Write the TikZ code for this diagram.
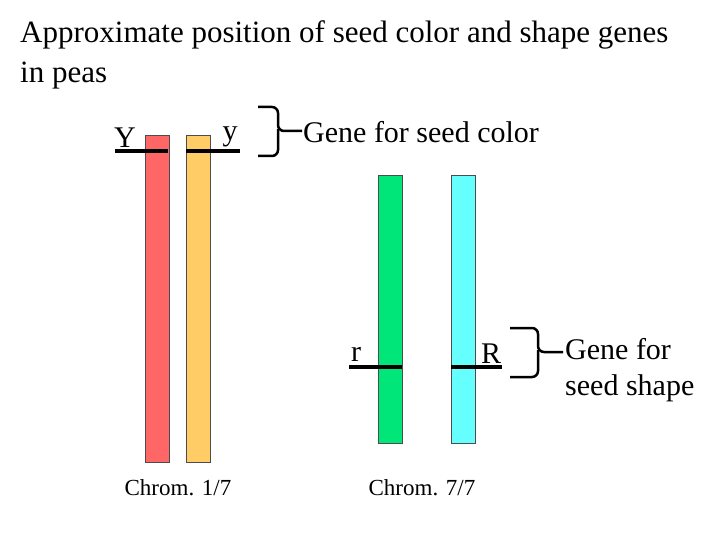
\documentclass[tikz,border=0pt]{standalone}
\usepackage{fontspec}
\setmainfont{Liberation Serif}
\begin{document}
\begin{tikzpicture}[x=1pt,y=-1pt,
  chrom/.style={draw=black!70,line width=0.8pt},
  gene/.style={line width=3.5pt},
  brace/.style={line width=2.5pt,rounded corners=6pt},
  title/.style={font=\fontsize{31}{40}\selectfont,inner sep=0pt},
  big/.style={font=\fontsize{30}{36}\selectfont,inner sep=0pt},
  small/.style={font=\fontsize{23}{26}\selectfont,inner sep=0pt}]
\useasboundingbox (0,0) rectangle (720,540);
\node[title,anchor=west,align=left] (title) at (20,55) {Approximate position of seed color and shape genes\\in peas};
\filldraw[chrom,fill={rgb,255:red,255;green,102;blue,102}] (145,135) rectangle (169,462);
\filldraw[chrom,fill={rgb,255:red,255;green,204;blue,102}] (186,135) rectangle (210,462);
\filldraw[chrom,fill={rgb,255:red,0;green,230;blue,120}] (378,175) rectangle (402,443);
\filldraw[chrom,fill={rgb,255:red,102;green,255;blue,255}] (451,175) rectangle (475,443);
\coordinate (y1) at (115,151); \coordinate (y2) at (168,151);
\coordinate (y3) at (186,151); \coordinate (y4) at (240,151);
\draw[gene] (y1)--(y2); \draw[gene] (y3)--(y4);
\coordinate (r1) at (349,367); \coordinate (r2) at (402,367);
\coordinate (r3) at (451,367); \coordinate (r4) at (502,367);
\draw[gene] (r1)--(r2); \draw[gene] (r3)--(r4);
\node[big] (Y) at (125,138) {Y};
\node[big] (ysm) at (230,137) {y};
\node[big] (r) at (356,354) {r};
\node[big] (R) at (491,354) {R};
\draw[brace] (258,107)--(278,107)--(278,131)--(302,131);
\draw[brace] (258,156)--(278,156)--(278,129);
\node[big,anchor=west] (g1) at (303,132) {Gene for seed color};
\draw[brace] (510,328)--(538,328)--(538,352)--(563,352);
\draw[brace] (510,377)--(538,377)--(538,350);
\node[big,anchor=west,align=left] (g2) at (565,370) {Gene for\\seed shape};
\node[small] (c1) at (178,488) {Chrom. 1/7};
\node[small] (c2) at (422,488) {Chrom. 7/7};
\end{tikzpicture}
\end{document}
